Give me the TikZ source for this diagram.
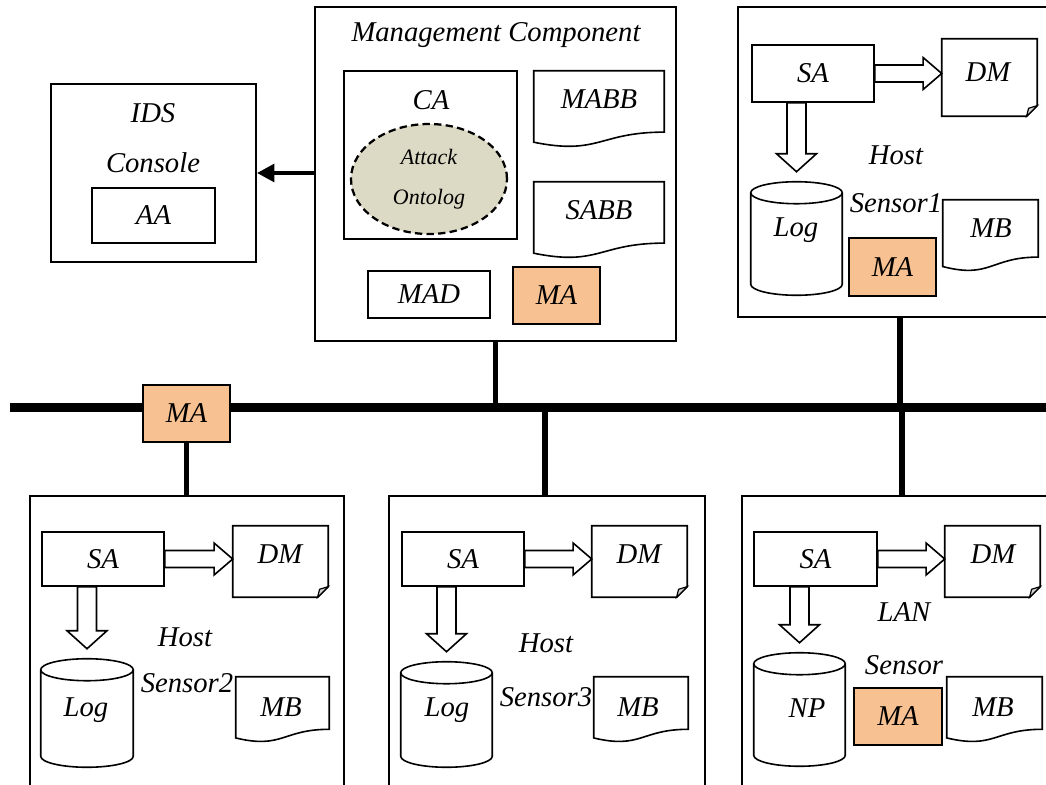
\documentclass[tikz,border=0pt]{standalone}
\usepackage{fontspec}
\setmainfont{Liberation Serif}
\usetikzlibrary{calc,fit,shapes.geometric,arrows.meta}
\definecolor{maorange}{RGB}{248,193,145}
\definecolor{ontofill}{RGB}{220,217,196}

% hollow block arrow pointing right, from #1 to #2
\newcommand\rblk[2]{%
  \draw[blk] let \p1=(#1.east), \p2=(#2.west) in
    (\x1,{\y1+6.4pt}) -- ({\x2-14pt},{\y1+6.4pt}) -- ({\x2-14pt},{\y1+12pt})
    -- (\x2,\y1) -- ({\x2-14pt},{\y1-12pt}) -- ({\x2-14pt},{\y1-6.4pt})
    -- (\x1,{\y1-6.4pt}) -- cycle;}
% hollow block arrow pointing down, from #1 to the top of #2
\newcommand\dblk[2]{%
  \draw[blk] let \p1=(#1.south), \p2=(#2.north) in
    ({\x2-7.1pt},\y1) -- ({\x2-7.1pt},{\y2+21pt}) -- ({\x2-15pt},{\y2+21pt})
    -- (\x2,{\y2+7.5pt}) -- ({\x2+15pt},{\y2+21pt}) -- ({\x2+7.1pt},{\y2+21pt})
    -- ({\x2+7.1pt},\y1) -- cycle;}
% database cylinder drawn over the frame of node #1
\newcommand\cyl[1]{%
  \draw[line width=1.2pt] let \p1=(#1.north west), \p2=(#1.south east) in
    (\x1,{\y1-8.25pt}) -- (\x1,{\y2+8.25pt})
    arc[start angle=180,end angle=360,x radius={(\x2-\x1)/2},y radius=8.25pt]
    -- (\x2,{\y1-8.25pt})
    arc[start angle=0,end angle=180,x radius={(\x2-\x1)/2},y radius=8.25pt]
    arc[start angle=180,end angle=360,x radius={(\x2-\x1)/2},y radius=8.25pt];}
% document with a wavy lower edge
\newcommand\wdoc[1]{%
  \draw[line width=1.2pt] let \p1=(#1.north west), \p2=(#1.south east) in
    (\p1) -- (\x2,\y1) -- (\x2,{\y1-0.802*(\y1-\y2)})
    .. controls ({(\x1+\x2)/2},{\y1-0.802*(\y1-\y2)}) and ({(\x1+\x2)/2},{\y1-1.1075*(\y1-\y2)})
    .. (\x1,{\y1-0.934*(\y1-\y2)}) -- cycle;}
% document with a folded lower right corner
\newcommand\fdoc[1]{%
  \draw[line width=1.2pt] let \p1=(#1.north west), \p2=(#1.south east) in
    (\p1) -- (\x2,\y1) -- (\x2,{\y2+8pt}) -- ({\x2-8pt},\y2) -- (\x1,\y2) -- cycle;
  \filldraw[fill=gray!35, line width=0.9pt] let \p2=(#1.south east) in
    (\x2,{\y2+8pt}) -- ({\x2-6.5pt},{\y2+6pt}) -- ({\x2-8pt},\y2) -- cycle;}

\begin{document}
\begin{tikzpicture}[x=0.75pt,y=-0.75pt,
  every node/.style={inner sep=0pt, font=\fontsize{21.5}{25}\selectfont\itshape},
  box/.style={draw, line width=1.2pt},
  hostbox/.style={draw, line width=1.4pt},
  mabox/.style={draw, line width=1.2pt, fill=maorange},
  blk/.style={draw, line width=1.2pt, fill=white, line join=miter},
  link/.style={line width=3.8pt},
  busline/.style={line width=6.5pt},
  small/.style={font=\fontsize{16.5}{30}\selectfont\itshape}]
\useasboundingbox (0,0) rectangle (1046,785);
\clip (0,0) rectangle (1046,785);

% ---------------- IDS console ----------------
\node[hostbox, fit={(51,84) (256,262)}] (ids) {};
\node (idst) at (153,113) {IDS};
\node (cons) at (153,163) {Console};
\node[box, fit={(92,188) (215,243)}] (aa) {};
\node (aat) at (aa.center) {AA};

% ---------------- management component ----------------
\node[hostbox, fit={(315,7) (676,341)}] (mgmt) {};
\node (mgt) at (496,35) {Management Component};
\node[box, fit={(344,71) (517,239)}] (ca) {};
\node (cat) at (431,100) {CA};
\node[ellipse, draw, dash pattern=on 5.5pt off 3.2pt, line width=1.7pt, fill=ontofill,
      minimum width=117pt, minimum height=82.5pt, small, align=center] (onto) at (429,179) {Attack\\Ontolog};
\node[fit={(534,71) (664,147)}] (mabb) {};
\wdoc{mabb}
\node (mabbt) at (599,99) {MABB};
\node[fit={(534,182) (664,258)}] (sabb) {};
\wdoc{sabb}
\node (sabbt) at (599,210) {SABB};
\node[box, fit={(368,271) (490,318)}] (mad) {};
\node (madt) at (mad.center) {MAD};
\node[mabox, fit={(513,267) (600,324)}] (mam) {};
\node (mamt) at (mam.center) {MA};

\coordinate (arrY) at (0,173);
\draw[line width=3.5pt, -{Triangle[length=13pt,width=13pt]}] (mgmt.west |- arrY) -- (ids.east |- arrY);

% ---------------- host sensor 1 ----------------
\node[hostbox, fit={(738,7) (1070,317)}] (h1) {};
\node[box, fit={(752,45) (874,102)}] (sa1) {};
\node (sa1t) at (sa1.center) {SA};
\node[fit={(942,39) (1037,116)}] (dm1) {};
\fdoc{dm1}
\node (dm1t) at (988,72) {DM};
\node[fit={(751,182) (842,295)}] (log1) {};
\cyl{log1}
\node (log1t) at (796,230) {Log};
\rblk{sa1}{dm1}
\dblk{sa1}{log1}
\node (host1) at (896,155) {Host};
\node (sens1) at (896,203) {Sensor1};
\node[mabox, fit={(849,238) (936,296)}] (ma1) {};
\node (ma1t) at (ma1.center) {MA};
\node[fit={(943,200) (1038,271)}] (mb1) {};
\wdoc{mb1}
\node (mb1t) at (991,228) {MB};

% ---------------- host sensor 2 ----------------
\node[hostbox, fit={(30,496) (344,800)}] (h2) {};
\node[box, fit={(42,532) (164,586)}] (sa2) {};
\node (sa2t) at (sa2.center) {SA};
\node[fit={(233,526) (328,597)}] (dm2) {};
\fdoc{dm2}
\node (dm2t) at (280,554) {DM};
\node[fit={(41,659) (133,767)}] (log2) {};
\cyl{log2}
\node (log2t) at (86,710) {Log};
\rblk{sa2}{dm2}
\dblk{sa2}{log2}
\node (host2) at (185,637) {Host};
\node (sens2) at (187,683) {Sensor2};
\node[fit={(236,677) (329,742)}] (mb2) {};
\wdoc{mb2}
\node (mb2t) at (281,707) {MB};

% ---------------- host sensor 3 ----------------
\node[hostbox, fit={(389,496) (705,800)}] (h3) {};
\node[box, fit={(402,532) (524,586)}] (sa3) {};
\node (sa3t) at (sa3.center) {SA};
\node[fit={(592,526) (687,597)}] (dm3) {};
\fdoc{dm3}
\node (dm3t) at (639,554) {DM};
\node[fit={(401,662) (492,767)}] (log3) {};
\cyl{log3}
\node (log3t) at (447,710) {Log};
\rblk{sa3}{dm3}
\dblk{sa3}{log3}
\node (host3) at (546,643) {Host};
\node (sens3) at (546,697) {Sensor3};
\node[fit={(594,677) (688,742)}] (mb3) {};
\wdoc{mb3}
\node (mb3t) at (638,707) {MB};

% ---------------- LAN sensor ----------------
\node[hostbox, fit={(742,496) (1070,800)}] (h4) {};
\node[box, fit={(754,532) (877,586)}] (sa4) {};
\node (sa4t) at (sa4.center) {SA};
\node[fit={(945,526) (1040,597)}] (dm4) {};
\fdoc{dm4}
\node (dm4t) at (993,554) {DM};
\node[fit={(754,653) (845,766)}] (np) {};
\cyl{np}
\node (npt) at (807,708) {NP};
\rblk{sa4}{dm4}
\dblk{sa4}{np}
\node (lan) at (904,612) {LAN};
\node (sens4) at (904,665) {Sensor};
\node[mabox, fit={(854,688) (942,745)}] (ma4) {};
\node (ma4t) at (ma4.center) {MA};
\node[fit={(947,677) (1042,742)}] (mb4) {};
\wdoc{mb4}
\node (mb4t) at (993,707) {MB};

% ---------------- network bus and links ----------------
\coordinate (busL) at (10,407.5);
\coordinate (busR) at (1046,407.5);
\coordinate (j1) at (900,407.5);
\coordinate (j3) at (545,407.5);
\coordinate (j4) at (902,407.5);
\draw[busline] (busL) -- (busR);
\draw[link] (mgmt.south) -- (mgmt.south |- busL);
\draw[link] (h1.south -| j1) -- (j1);
\draw[link] (j3) -- (j3 |- h3.north);
\draw[link] (j4) -- (j4 |- h4.north);
\node[mabox, fit={(143,385) (230,442)}] (mab) {};
\node (mabt) at (mab.center) {MA};
\draw[link] (mab.south) -- (mab.south |- h2.north);
\end{tikzpicture}
\end{document}
